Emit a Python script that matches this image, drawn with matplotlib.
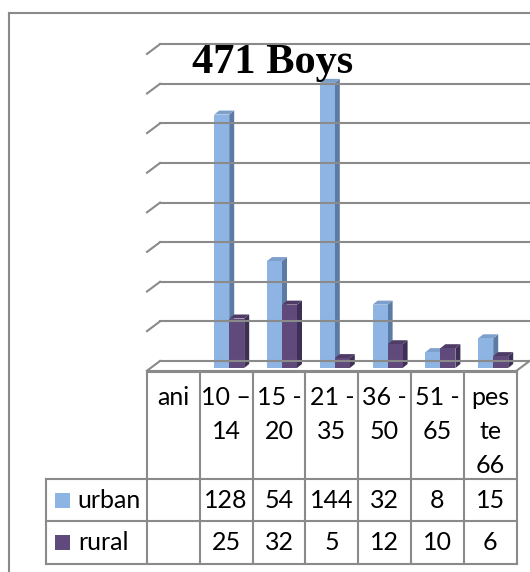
import matplotlib
matplotlib.use('Agg')
import matplotlib.pyplot as plt
from matplotlib.patches import Polygon, Rectangle
from matplotlib.lines import Line2D
from matplotlib.transforms import IdentityTransform
import numpy as np

## data
categories = ['ani', '10 –\n14', '15 -\n20', '21 -\n35', '36 -\n50', '51 -\n65', 'pes\nte\n66']
urban = [np.nan, 128, 54, 144, 32, 8, 15]
rural = [np.nan, 25, 32, 5, 12, 10, 6]
series_names = ['urban', 'rural']
title = '471 Boys'

## styles
W, H = 530, 572
grid_col = '#8a8a8a'
front_cols = ['#8db4e2', '#604a7b']
side_cols = ['#5b7ba4', '#3d2f55']
top_cols = ['#7c9fcb', '#4e3c66']
txt_font = 'Lato'

fig = plt.figure(figsize=(W / 100, H / 100), dpi=100)


def box(x0, ytop, x1, ybot):
    return [x0 / W, 1 - ybot / H, (x1 - x0) / W, (ybot - ytop) / H]


## chart area (front plane)
ax = fig.add_axes(box(147, 53.9, 516.6, 370.7))
ax.set_xlim(-0.5, 6.5)
ax.set_ylim(0, 160)
ax.axis('off')


def disp(x, y, dx=0, dy=0):
    p = ax.transData.transform((x, y))
    return (p[0] + dx, p[1] + dy)


def dline(p, q, **kw):
    fig.add_artist(Line2D([p[0], q[0]], [p[1], q[1]], transform=IdentityTransform(), **kw))


# back wall offset
bdx, bdy = 13, 9.7
for v in range(0, 161, 20):
    dline(disp(-0.5, v, bdx, bdy), disp(6.5, v, bdx, bdy), color=grid_col, lw=1.5)
    dline(disp(-0.5, v), disp(-0.5, v, bdx, bdy), color=grid_col, lw=1.5)
# floor
dline(disp(-0.5, 0), disp(6.5, 0), color=grid_col, lw=1.5)
dline(disp(6.5, 0), disp(6.5, 0, bdx, bdy), color=grid_col, lw=1.5)

## bars
w = 0.284
bx, by = 3, 2.7
sx, sy = 5, 4
for s, vals in enumerate([urban, rural]):
    for i, v in enumerate(vals):
        if np.isnan(v):
            continue
        x0 = i - w + s * w
        x1 = x0 + w
        front = [disp(x0, 0, bx, by), disp(x1, 0, bx, by), disp(x1, v, bx, by), disp(x0, v, bx, by)]
        side = [disp(x1, 0, bx, by), disp(x1, 0, bx + sx, by + sy),
                disp(x1, v, bx + sx, by + sy), disp(x1, v, bx, by)]
        top = [disp(x0, v, bx, by), disp(x1, v, bx, by),
               disp(x1, v, bx + sx, by + sy), disp(x0, v, bx + sx, by + sy)]
        for pts, c in [(side, side_cols[s]), (top, top_cols[s]), (front, front_cols[s])]:
            fig.add_artist(Polygon(pts, closed=True, facecolor=c, edgecolor='none',
                                   transform=IdentityTransform()))

## title
fig.text(273 / W, 1 - 73.3 / H, title, family='Liberation Serif', weight='bold',
         fontsize=30.5, ha='center', va='baseline')

## data table
tax = fig.add_axes(box(45.6, 371.8, 516.6, 563.9))
leg_left = -0.5 - (147 - 45.6) / 52.8
tax.set_xlim(leg_left, 6.5)
tax.set_ylim(0, 192.1)
tax.axis('off')
r1, r2, top_y = 42.6, 84.9, 192.1
tkw = dict(color=grid_col, lw=1.5, clip_on=False)
for xb in np.arange(-0.5, 6.6, 1.0):
    tax.plot([xb, xb], [0, top_y], **tkw)
tax.plot([leg_left, leg_left], [0, r2], **tkw)
tax.plot([-0.5, 6.5], [top_y, top_y], **tkw)
for yb in [0, r1, r2]:
    tax.plot([leg_left, 6.5], [yb, yb], **tkw)

fs = 18
for i, lab in enumerate(categories):
    tax.text(i, top_y - 14, lab, ha='center', va='top', fontsize=fs,
             family=txt_font, linespacing=1.58)
for s, vals in enumerate([urban, rural]):
    yc = (r2 + r1) / 2 if s == 0 else r1 / 2
    for i, v in enumerate(vals):
        if np.isnan(v):
            continue
        tax.text(i, yc, str(int(v)), ha='center', va='center', fontsize=fs, family=txt_font)
    sq = 15 / 52.8
    tax.add_patch(Rectangle((leg_left + (55 - 45.6) / 52.8, yc - 7.5), sq, 15,
                            facecolor=front_cols[s], edgecolor='none', clip_on=False))
    tax.text(leg_left + (77.8 - 45.6) / 52.8, yc, series_names[s], ha='left', va='center',
             fontsize=fs, family=txt_font)

## outer border
fig.add_artist(Line2D([9 / W, 9 / W], [0, 1 - 13.3 / H], color=grid_col, lw=1.5))
fig.add_artist(Line2D([9 / W, 1], [1 - 13.3 / H, 1 - 13.3 / H], color=grid_col, lw=1.5))

plt.savefig('out.png', dpi=100)
